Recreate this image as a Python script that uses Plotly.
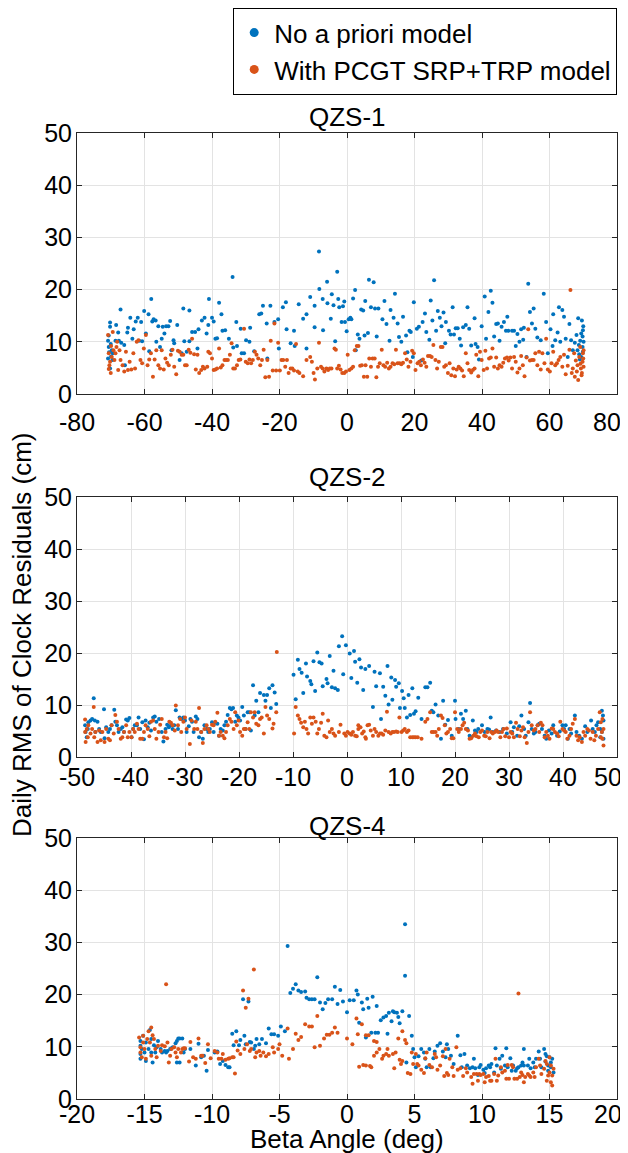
import plotly.graph_objects as go

# ---------------- QZS-1 ----------------
q1_none_x = [-70.2,-70.2,-70.8,-70.6,-69.7,-69.4,-70.8,-70.2,-68.6,-68.4,-67.8,-67.1,-67.6,-66.9,-66.0,-65.8,-65.1,-64.9,-64.2,-63.6,
 -63.2,-62.6,-62.0,-61.6,-61.0,-60.7,-60.1,-59.6,-58.8,-58.6,-58.0,-57.7,-57.3,-56.7,-56.5,-55.9,-55.4,-54.9,-54.6,-54.1,
 -53.6,-52.9,-52.4,-52.0,-51.4,-51.2,-50.3,-49.6,-49.0,-48.5,-48.2,-47.5,-46.7,-46.7,-45.9,-45.0,-44.3,-44.0,-43.0,-42.2,
 -41.6,-41.1,-40.9,-40.0,-39.5,-39.0,-38.5,-37.9,-37.2,-36.9,-36.1,-35.0,-33.9,-33.7,-32.8,-32.6,-31.5,-31.2,-30.5,-29.9,
 -28.9,-28.7,-27.5,-26.0,-25.4,-24.9,-23.8,-23.6,-22.7,-21.5,-20.4,-20.2,-19.0,-18.1,-17.9,-16.7,-15.7,-15.5,-14.3,-13.0,
 -12.0,-12.0,-10.9,-9.6,-9.6,-8.3,-8.2,-7.2,-7.1,-5.9,-5.8,-4.8,-4.5,-4.0,-3.5,-2.9,-2.6,-2.3,-1.6,-1.2,
 -0.8,-0.6,-0.1,0.5,1.0,1.3,1.8,2.4,2.6,3.2,3.7,4.2,4.8,5.2,5.4,6.2,6.5,7.1,7.9,8.3,
 8.8,9.3,10.5,11.1,11.7,12.6,12.9,13.8,14.2,15.0,15.4,16.1,16.6,17.5,17.9,18.5,18.9,19.5,19.8,20.7,
 21.3,22.0,22.4,23.1,23.5,24.4,24.8,25.3,25.8,26.4,26.9,27.5,28.0,28.6,29.1,29.3,30.2,30.7,31.3,31.7,
 32.2,32.8,33.4,33.8,34.4,35.2,35.7,36.2,36.8,37.8,38.1,38.7,39.1,39.9,40.8,41.2,41.9,42.6,43.1,43.6,
 44.2,44.7,45.2,45.8,46.5,47.1,47.5,47.8,48.9,49.5,50.0,50.5,51.1,51.6,52.2,52.4,53.2,53.7,54.2,54.8,
 55.3,55.8,56.4,57.4,58.3,59.0,59.5,60.3,60.9,61.1,61.7,62.4,62.8,63.2,63.8,64.3,64.8,65.4,65.9,66.4,
 66.9,67.5,68.0,68.3,68.5,68.7,69.1,69.4,69.6,69.8,69.9,70.1,69.9,69.4,
 -70.5,-69.9,-70.0,-69.5,-70.6,69.0,69.8,70.0,68.8]
q1_none_y = [13.7,12.9,10.2,9.0,8.4,7.8,6.8,4.9,10.2,13.2,11.8,16.2,10.2,9.8,9.4,5.5,11.8,12.7,14.6,10.6,
 12.4,13.9,14.6,10.2,13.8,10.1,15.9,11.6,15.3,8.2,18.2,13.9,14.3,14.1,10.0,13.0,9.0,10.6,12.9,11.6,
 13.0,13.0,14.0,8.4,10.3,9.7,13.2,6.5,7.8,16.4,10.1,8.1,16.0,10.1,11.9,11.9,8.7,12.4,14.1,14.6,
 11.6,13.2,18.2,14.6,13.9,10.6,10.7,17.5,15.3,12.1,12.2,10.6,22.4,8.9,13.8,9.2,12.5,7.8,7.8,10.3,
 10.0,12.7,8.2,15.3,15.4,16.9,13.5,6.8,16.9,13.8,14.3,8.7,16.6,17.6,12.4,9.7,12.1,9.2,17.2,14.4,
 15.3,8.7,18.6,12.8,16.9,27.3,20.1,18.2,12.2,21.5,17.4,14.4,19.1,17.0,10.1,23.4,18.2,16.6,13.8,16.8,
 17.7,13.8,12.0,14.3,14.6,14.3,18.3,19.9,8.4,11.4,10.6,16.2,16.0,11.2,17.8,11.7,21.9,16.6,21.4,16.4,
 11.0,16.4,14.3,17.8,13.4,10.2,16.1,14.6,19.2,13.5,10.9,10.0,14.8,11.2,8.0,12.1,11.9,7.1,17.6,12.5,
 12.9,6.4,13.8,15.4,11.9,10.4,17.9,14.1,21.8,12.1,15.9,14.6,13.0,15.6,9.7,13.8,12.1,11.4,16.6,11.4,
 12.6,12.6,10.6,9.3,12.8,13.2,16.6,12.5,9.3,14.5,9.6,9.0,6.6,13.0,18.7,10.6,15.7,19.8,17.5,11.0,
 13.4,13.5,10.2,12.9,13.8,12.1,14.8,12.1,12.1,12.1,9.2,11.5,10.0,12.4,10.4,12.7,7.1,21.1,15.7,13.5,
 16.4,12.5,10.8,10.3,19.2,13.8,7.8,12.4,9.2,15.3,10.3,11.8,16.6,10.0,16.1,14.8,10.6,7.1,13.4,10.3,
 8.4,9.8,11.3,8.4,14.5,9.4,10.2,11.6,14.1,9.0,12.2,10.0,8.1,7.1,
 8.0,7.2,9.6,6.5,11.2,6.6,11.0,13.0,7.6]

q1_pcgt_x = [-70.8,-70.6,-70.2,-70.0,-69.7,-69.4,-69.2,-68.9,-68.6,-68.3,-68.1,-67.8,-67.4,-67.1,-66.5,-66.0,-65.5,-64.9,-64.4,-63.9,
 -63.3,-62.8,-62.3,-61.8,-61.2,-60.7,-60.2,-59.6,-59.1,-58.6,-58.1,-57.5,-57.0,-56.5,-55.9,-55.4,-54.9,-54.3,-53.8,-53.3,
 -52.8,-52.2,-51.7,-51.2,-50.6,-50.1,-49.6,-49.0,-48.5,-48.0,-47.5,-46.9,-46.4,-45.9,-45.3,-44.8,-44.3,-43.8,-43.2,-42.7,
 -42.2,-41.4,-41.1,-40.6,-40.0,-39.5,-39.0,-38.5,-37.9,-37.4,-36.9,-36.3,-35.8,-35.3,-34.7,-34.2,-33.7,-33.2,-32.6,-32.1,
 -31.6,-30.5,-30.0,-29.4,-28.9,-28.4,-27.9,-27.3,-26.8,-26.3,-25.7,-25.2,-24.7,-24.2,-23.6,-23.1,-22.6,-22.0,-21.5,-21.0,
 -20.4,-19.9,-19.4,-18.9,-18.3,-17.8,-17.3,-16.7,-16.2,-15.7,-15.1,-14.6,-14.1,-13.0,-12.0,-10.9,-10.4,-9.9,-9.5,-8.8,
 -8.3,-7.7,-7.2,-6.7,-6.1,-5.6,-5.1,-4.6,-3.7,-3.3,-2.9,-2.4,-1.9,-1.4,-0.8,-0.3,0.2,0.7,1.3,1.8,
 2.3,2.9,3.4,3.9,4.4,5.0,5.5,6.0,6.6,7.1,7.6,8.2,8.7,9.2,9.7,10.3,10.8,11.3,11.9,12.4,
 12.9,13.5,14.0,14.5,15.0,15.6,16.1,16.6,17.2,17.7,18.2,18.8,19.3,19.8,20.3,20.9,21.4,21.9,22.5,23.0,
 23.5,24.0,24.6,25.1,25.6,26.2,26.7,27.2,27.8,28.3,28.8,29.3,29.9,30.4,30.9,31.5,32.0,32.5,33.1,33.6,
 34.1,34.6,35.2,35.7,36.2,36.8,37.3,37.8,38.3,38.9,39.4,39.9,40.5,41.0,41.5,42.1,42.6,43.1,43.6,44.2,
 44.7,45.2,45.8,46.3,46.8,47.4,47.9,48.4,48.9,49.5,50.0,50.5,51.1,51.6,52.1,52.6,53.2,53.7,54.2,54.8,
 55.3,55.8,56.4,56.9,57.4,57.9,58.5,59.0,59.5,60.1,60.6,61.1,61.7,62.2,62.7,63.2,63.8,64.3,64.8,65.4,
 65.9,66.2,66.6,66.9,67.3,67.5,67.8,68.1,68.3,68.5,68.8,69.1,69.3,69.6,69.8,69.9,70.1,70.1,
 -70.4,-69.9,-70.6,69.5,70.0,69.2]
q1_pcgt_y = [11.3,7.8,6.2,4.0,7.1,11.9,8.4,6.5,7.8,9.0,10.0,4.6,8.4,6.5,5.5,4.3,8.1,4.6,6.2,4.7,
 7.8,4.9,10.0,10.3,6.5,5.9,8.7,11.3,5.5,6.6,7.8,3.3,6.6,8.4,5.5,4.9,8.4,4.7,6.8,6.0,
 5.5,7.5,8.5,5.2,3.8,8.3,8.1,7.5,7.5,5.5,5.5,8.5,7.9,10.6,7.6,4.7,7.5,4.0,4.6,5.2,
 4.9,5.2,8.1,7.8,6.8,4.6,4.7,4.9,8.7,5.1,5.5,6.5,6.5,6.5,7.5,9.7,4.9,4.9,5.5,6.5,
 6.6,12.5,6.2,5.9,6.6,5.9,6.5,8.1,7.5,6.8,5.5,6.5,8.5,3.2,6.5,3.3,10.2,4.5,13.5,4.5,
 9.8,4.5,6.5,6.5,5.2,6.5,4.0,4.9,4.9,4.5,9.6,4.3,4.0,3.4,6.5,7.1,6.2,4.0,2.8,4.9,
 9.8,5.2,4.9,4.3,4.9,4.6,4.9,4.9,8.7,8.5,4.9,5.4,4.7,4.0,4.0,4.3,7.5,4.6,4.9,5.2,
 8.4,9.2,9.2,5.4,5.5,3.3,5.5,3.3,6.8,5.2,6.8,6.8,3.2,5.2,5.9,8.5,5.5,5.2,6.0,4.9,
 5.2,5.9,5.7,8.5,5.9,5.9,5.7,6.0,7.8,6.6,5.2,6.2,8.3,7.8,4.6,5.9,6.2,5.5,6.6,6.0,
 5.2,7.3,7.3,7.1,9.4,6.5,4.9,6.2,9.0,9.0,5.2,5.5,4.0,5.9,3.6,4.9,3.4,4.7,5.2,4.9,
 4.5,3.4,7.8,5.9,4.6,4.1,4.6,4.9,7.5,3.4,8.1,6.5,4.6,8.3,4.9,6.8,7.0,8.7,5.2,7.0,
 4.9,5.5,5.2,6.0,6.8,7.0,6.4,7.0,4.9,7.1,6.2,4.1,4.9,7.3,5.5,3.4,7.0,12.4,6.4,6.5,
 6.5,7.8,5.5,8.1,4.7,7.8,5.9,10.6,4.7,4.3,5.9,8.1,5.5,5.9,6.5,7.1,5.2,7.5,3.8,5.4,
 8.5,19.9,4.0,4.9,7.8,3.3,6.4,4.3,5.5,2.7,7.1,9.0,4.9,4.0,6.2,7.8,5.2,8.4,
 5.5,9.2,4.8,3.6,6.8,5.8]

# ---------------- QZS-2 ----------------
q2_none_x = [-48.5,-48.4,-48.2,-48.0,-47.9,-47.5,-47.2,-46.9,-46.7,-46.6,-46.2,-45.9,-45.6,-45.0,-44.9,-44.6,-44.2,-43.9,-43.6,-43.1,
 -42.9,-42.6,-42.3,-41.9,-41.6,-41.3,-40.9,-40.6,-40.3,-39.9,-39.6,-39.3,-38.9,-38.6,-38.3,-37.9,-37.6,-37.3,-36.9,-36.6,
 -36.3,-35.9,-35.6,-35.3,-34.8,-34.3,-34.0,-33.6,-33.3,-33.0,-32.6,-32.3,-32.0,-31.7,-31.3,-31.0,-30.7,-30.3,-30.0,-29.7,
 -29.3,-29.0,-28.7,-28.4,-28.0,-27.7,-27.4,-27.0,-26.7,-26.4,-26.0,-25.7,-25.4,-25.0,-24.7,-24.4,-24.0,-23.7,-23.4,-23.0,
 -22.7,-22.4,-22.1,-21.7,-21.4,-21.1,-20.7,-20.4,-20.1,-19.8,-19.4,-19.1,-18.8,-18.4,-18.1,-17.8,-17.4,-17.1,-16.8,-16.4,
 -16.1,-15.4,-15.1,-14.8,-14.4,-14.1,-13.8,-13.4,-13.1,
 -9.9,-9.5,-9.1,-8.8,-8.4,-8.1,-7.6,-7.4,-6.8,-6.6,-6.2,-5.9,-5.5,-5.1,-4.7,-4.5,-3.8,-3.6,-3.2,-2.8,
 -2.5,-2.2,-1.7,-1.5,-0.9,-0.7,-0.2,0.5,0.8,1.3,1.5,1.9,2.3,2.6,3.0,3.4,4.1,4.8,5.1,5.4,
 6.1,6.3,6.7,7.1,7.5,7.7,8.2,8.4,8.9,9.1,9.6,9.8,10.2,10.5,10.7,11.1,11.4,11.7,12.1,12.4,
 12.7,13.2,13.8,14.5,14.9,15.4,15.7,16.0,16.4,16.9,17.4,17.8,18.2,18.7,19.4,20.0,20.1,20.7,21.1,21.5,
 22.0,22.3,22.7,23.0,23.3,23.7,24.0,24.3,25.0,25.5,26.0,26.3,26.6,27.0,27.6,28.3,28.9,29.6,30.3,30.6,
 30.9,31.5,31.9,32.3,32.8,33.1,33.6,33.9,34.2,34.6,34.9,35.3,35.6,36.1,36.6,36.9,37.4,37.9,38.2,38.9,
 39.4,39.9,40.2,40.5,40.9,41.2,41.5,42.2,42.5,43.0,43.5,44.1,44.5,45.2,45.5,45.9,46.2,46.5,46.9,47.2,
 47.4,47.5,47.2,47.5,46.9]
q2_none_y = [6.1,4.8,3.8,5.4,6.7,7.0,7.3,11.3,7.0,4.8,6.8,5.4,4.8,9.2,3.6,5.7,4.8,5.4,6.1,9.1,
 6.8,6.1,4.8,5.4,5.7,4.8,7.2,7.0,7.5,3.8,5.4,6.1,6.1,7.6,5.4,6.7,3.4,7.0,5.7,6.6,
 5.1,7.6,7.8,6.8,7.3,4.8,3.0,5.4,6.2,5.7,6.1,5.4,6.1,9.0,5.4,7.6,7.3,7.6,7.0,4.8,
 5.9,7.3,6.8,4.8,7.8,7.3,3.8,4.8,3.5,6.1,5.4,4.8,5.4,6.7,4.8,6.6,6.4,4.1,5.4,5.1,
 6.1,6.8,8.1,9.4,9.2,9.4,6.8,8.0,7.6,7.0,9.6,8.0,5.4,8.6,8.6,5.1,13.8,8.0,10.8,8.6,
 12.3,11.9,10.8,11.9,13.2,9.4,13.8,12.4,10.2,
 15.8,11.1,18.7,16.9,16.2,12.3,18.0,15.5,14.6,14.0,18.4,12.7,20.1,18.2,18.0,13.6,15.0,14.2,19.4,13.4,
 16.6,13.2,12.9,21.3,23.2,15.9,21.5,19.9,15.2,20.4,18.3,14.3,18.8,17.2,12.9,16.9,17.5,9.6,16.4,13.6,
 16.1,7.3,13.5,11.8,17.5,10.1,15.3,11.0,14.8,13.5,14.2,9.4,12.7,11.3,9.4,7.6,11.9,8.1,13.2,8.3,
 8.8,11.4,7.3,13.4,13.4,14.3,8.9,8.6,10.1,8.0,3.5,10.8,6.2,7.1,4.1,10.8,7.3,5.4,8.3,7.3,
 8.9,5.4,4.1,3.8,7.0,5.1,4.8,5.4,6.1,4.8,5.4,5.3,7.6,4.8,5.1,4.8,5.4,4.5,6.7,4.8,
 5.7,4.1,5.9,8.0,5.4,4.1,6.7,10.4,5.4,4.5,4.8,6.1,6.4,5.4,4.1,3.5,5.1,4.5,6.1,4.1,
 4.9,6.1,5.4,6.1,3.5,5.4,4.5,8.0,4.8,4.1,3.5,5.9,4.8,7.0,5.4,4.8,6.1,6.7,5.4,8.9,
 8.0,7.0,4.8,3.5,3.8]

q2_pcgt_x = [-48.5,-48.5,-48.4,-48.2,-48.0,-47.9,-47.5,-47.2,-46.9,-46.8,-46.6,-46.2,-45.9,-45.6,-45.3,-44.9,-44.6,-44.2,-43.9,-43.6,
 -43.2,-42.9,-42.6,-42.3,-41.9,-41.6,-41.3,-40.9,-40.6,-40.3,-39.9,-39.6,-39.3,-38.9,-38.6,-38.3,-37.9,-37.6,-37.3,-36.9,
 -36.6,-36.3,-35.9,-35.6,-35.3,-34.9,-34.6,-34.3,-33.9,-33.6,-33.3,-32.9,-32.6,-32.3,-31.9,-31.7,-31.3,-30.9,-30.7,-30.3,
 -30.0,-29.7,-29.1,-28.8,-28.3,-28.0,-27.7,-27.4,-27.0,-26.7,-26.4,-26.0,-25.7,-25.4,-25.0,-24.7,-24.4,-24.0,-23.7,-23.4,
 -23.0,-22.7,-22.4,-22.1,-21.7,-21.4,-21.0,-20.7,-20.4,-20.1,-19.8,-19.4,-19.1,-18.8,-18.4,-18.1,-17.8,-17.4,-17.1,-16.8,
 -16.4,-16.1,-15.8,-15.4,-15.1,-14.8,-14.4,-13.8,-13.6,-13.1,-13.0,
 -9.8,-9.5,-9.1,-8.8,-8.5,-8.1,-7.8,-7.5,-7.2,-6.8,-6.5,-6.2,-5.8,-5.5,-5.2,-4.8,-4.5,-4.2,-3.8,-3.5,
 -3.2,-2.8,-2.5,-2.2,-1.5,-1.2,-0.5,-0.2,0.1,0.5,0.8,1.1,1.5,1.8,2.1,2.1,2.5,2.8,3.1,3.4,
 3.5,3.8,4.1,4.4,4.8,5.1,5.4,5.8,6.1,6.4,6.7,7.1,7.4,7.7,8.1,8.4,8.7,9.1,9.4,9.7,
 10.1,10.4,10.7,11.1,11.4,11.7,12.1,12.4,12.7,13.1,13.8,14.5,14.9,15.4,15.7,16.0,16.4,16.7,17.0,17.4,
 17.7,18.1,18.4,18.7,19.1,19.4,19.7,20.0,20.4,20.7,21.1,21.4,21.7,22.0,22.4,22.7,23.0,23.4,23.7,24.0,
 24.4,24.7,25.0,25.4,25.7,26.0,26.4,26.7,27.0,27.4,27.7,28.0,28.4,28.7,29.0,29.3,29.6,30.0,30.3,30.6,
 30.9,31.3,31.6,32.0,32.3,32.6,32.9,33.3,33.6,33.9,34.2,34.6,34.9,35.3,35.6,35.9,36.2,36.6,36.9,37.2,
 37.5,37.9,38.2,38.5,38.9,39.2,39.5,39.9,40.2,40.5,40.8,41.2,41.5,41.8,42.2,42.5,42.8,43.1,43.5,43.8,
 44.1,44.5,44.8,45.1,45.5,45.8,46.1,46.5,46.8,47.0,47.2,47.3,47.5,47.5,47.3,47.0]
q2_pcgt_y = [7.2,4.8,2.9,5.4,3.8,6.1,4.5,5.4,9.6,3.8,4.8,2.9,5.1,3.2,4.8,2.9,5.4,3.5,3.2,6.1,
 4.5,8.1,6.8,5.4,3.5,3.8,4.8,6.1,3.8,4.8,3.8,5.4,4.8,6.4,5.4,3.5,3.5,4.8,6.1,5.4,
 4.0,6.8,7.0,5.4,3.5,4.8,6.2,7.3,3.8,4.8,3.6,6.8,6.6,6.1,5.1,9.9,6.1,7.3,4.8,6.8,
 7.6,5.4,2.5,7.0,5.4,6.8,5.4,9.4,4.8,2.7,5.4,6.1,5.4,4.8,6.2,6.1,6.8,8.5,4.1,4.8,
 4.1,3.6,4.8,6.1,7.3,6.8,5.4,8.6,6.1,7.0,4.8,4.1,5.4,5.4,6.7,5.4,8.6,7.6,8.6,6.4,
 6.1,7.3,7.6,4.5,9.6,8.0,7.3,5.5,6.4,8.6,20.2,
 4.5,9.6,8.0,7.3,6.6,5.7,6.8,5.4,4.5,7.6,6.4,7.6,6.8,4.5,5.4,6.6,8.3,4.1,3.8,7.0,
 4.8,5.4,4.5,4.1,4.8,6.2,4.5,4.1,4.8,4.5,4.3,4.8,4.1,4.0,5.4,6.1,5.7,4.5,4.9,3.8,
 3.5,6.1,6.2,5.1,4.1,5.4,4.8,4.1,4.5,4.5,4.3,5.1,8.7,4.8,4.5,4.8,4.8,4.9,4.8,7.6,
 4.8,5.1,5.4,4.8,5.1,3.8,3.8,3.8,3.8,3.8,3.5,6.8,7.3,8.6,4.8,4.8,4.8,4.1,5.4,8.0,
 7.5,6.1,4.5,4.8,5.4,3.6,3.6,8.6,5.4,4.8,5.4,6.1,6.6,5.4,5.1,3.5,3.6,4.1,4.5,4.0,
 3.8,4.8,5.1,4.1,4.0,4.8,3.6,4.8,4.5,4.8,5.1,4.8,3.8,4.8,5.4,4.0,5.5,3.8,4.8,4.5,
 3.8,6.6,5.4,4.0,5.1,5.7,3.8,2.7,4.8,8.6,6.1,5.1,5.4,6.1,4.8,6.6,6.1,3.8,4.8,4.1,
 3.5,5.5,5.4,4.8,4.5,4.0,6.8,5.4,5.1,4.8,3.5,4.1,5.4,6.4,7.3,4.1,3.2,3.8,2.9,4.8,
 4.1,5.4,5.1,3.5,4.8,3.2,4.1,5.4,8.6,6.7,4.8,3.5,2.2,5.4,7.3,3.8]

# ---------------- QZS-4 ----------------
q4_none_x = [-15.3,-15.3,-15.3,-15.3,-15.2,-15.1,-15.0,-14.9,-14.9,-14.7,-14.6,-14.5,-14.5,-14.4,-14.3,-14.2,-14.1,-14.0,-13.8,-13.7,
 -13.5,-13.4,-13.3,-13.1,-13.0,-12.9,-12.7,-12.6,-12.5,-12.4,-12.2,-12.6,-12.4,-12.1,-12.0,-11.6,-11.2,-11.0,-10.8,-10.6,
 -10.4,-10.3,-9.8,-9.6,-9.4,-9.2,-9.0,-8.8,-8.7,-8.5,-8.4,-8.2,-8.0,-7.9,-7.7,-7.6,-7.5,-7.3,-7.2,-7.1,
 -6.9,-6.8,-6.7,-6.5,-6.3,-6.0,-5.8,-5.6,-5.4,-5.1,-4.9,-4.6,-4.4,-4.2,-4.0,-3.8,-3.6,-3.4,-3.1,-3.0,
 -2.8,-2.6,-2.4,-2.2,-2.0,-1.8,-1.6,-1.4,-1.1,-0.9,-0.7,-0.5,-0.3,0.0,0.2,0.5,0.7,0.8,0.9,1.1,
 1.2,1.4,1.5,1.6,1.8,1.9,2.1,2.2,2.3,2.5,2.7,2.9,3.0,3.1,3.3,3.4,3.5,3.7,3.8,3.9,
 4.1,4.3,4.3,4.4,4.6,4.8,4.9,5.0,5.1,5.3,5.5,5.7,5.8,5.9,6.1,6.2,6.4,6.5,6.7,6.9,
 7.1,7.3,7.4,7.5,7.7,7.9,8.2,8.4,8.5,8.7,8.9,9.1,9.3,9.4,9.5,9.7,9.8,9.9,10.1,10.2,
 10.3,10.5,10.6,10.7,10.9,11.0,11.1,11.3,11.4,11.5,11.7,11.8,11.9,12.1,12.2,12.3,12.5,12.6,12.7,12.9,
 13.0,13.1,13.1,13.4,13.5,13.6,13.8,13.9,14.0,14.2,14.3,14.4,14.6,14.7,14.7,14.8,14.9,14.9,15.0,15.1,
 15.1,15.2,15.3]
q4_none_y = [11.1,10.2,8.6,7.7,9.6,12.1,8.9,7.3,10.8,9.6,13.2,11.5,8.9,7.0,10.3,8.9,9.9,11.1,9.6,8.9,
 9.2,8.9,9.2,9.6,9.7,9.9,10.7,11.1,11.6,11.6,11.6,7.0,7.0,8.9,9.6,9.6,6.4,10.6,8.0,8.3,
 5.4,9.4,8.9,9.1,6.7,7.3,6.5,6.1,6.1,12.5,10.3,13.0,10.3,11.3,19.1,12.1,10.5,18.7,10.9,10.8,
 9.6,10.2,11.5,10.5,11.5,10.7,13.5,12.4,12.4,12.1,13.9,13.0,29.3,20.3,21.1,22.0,20.8,20.5,20.6,19.4,
 19.1,19.1,19.1,23.3,18.5,17.2,18.4,19.1,19.1,21.5,18.2,20.9,18.7,16.6,18.9,18.9,20.8,20.0,14.6,18.5,
 17.2,11.8,19.2,17.5,12.7,19.6,12.7,17.8,12.7,15.1,15.6,15.9,12.5,16.5,14.9,16.8,16.6,16.5,15.7,14.5,
 16.8,33.5,23.6,7.0,15.9,12.1,9.6,8.0,6.1,8.2,9.6,8.9,7.7,6.1,9.6,6.1,7.8,9.1,10.2,10.7,
 9.1,8.0,10.5,9.6,8.3,6.7,12.1,8.4,6.1,8.6,6.4,5.9,6.1,7.7,5.9,4.6,6.1,6.5,5.6,5.0,
 5.9,6.4,6.1,6.7,5.1,9.7,6.4,7.7,5.8,8.3,6.4,9.7,6.1,7.8,5.4,6.4,5.4,5.9,6.1,6.4,
 7.0,6.4,9.6,6.4,7.7,5.9,7.0,6.1,7.7,9.1,7.7,6.1,9.6,7.2,8.6,8.2,6.4,5.4,8.0,7.0,
 6.1,7.7,5.1]

q4_pcgt_x = [-15.4,-15.3,-15.3,-15.2,-15.1,-15.1,-15.0,-14.9,-14.8,-14.7,-14.6,-14.5,-14.5,-14.4,-14.3,-14.2,-14.1,-14.0,-13.8,-13.7,
 -13.5,-13.4,-13.3,-13.2,-13.1,-13.0,-12.8,-12.7,-12.6,-12.5,-12.3,-12.2,-12.1,-12.0,-11.7,-11.6,-11.4,-11.2,-11.0,-10.8,
 -10.7,-10.5,-10.3,-10.1,-9.8,-9.6,-9.5,-9.3,-9.2,-9.0,-8.8,-8.7,-8.5,-8.4,-8.3,-8.2,-8.1,-7.9,-7.7,-7.6,
 -7.5,-7.4,-7.3,-7.2,-7.1,-6.9,-6.8,-6.7,-6.5,-6.4,-6.2,-6.0,-5.8,-5.5,-5.4,-5.1,-5.0,-4.8,-4.4,-4.3,
 -4.0,-3.8,-3.6,-3.4,-3.1,-2.8,-2.6,-2.4,-2.2,-2.0,-1.7,-1.5,-1.3,-1.1,-0.9,-0.7,0.0,0.4,0.7,0.8,
 0.9,1.1,1.2,1.4,1.4,1.6,1.7,1.8,2.0,2.0,2.2,2.2,2.4,2.6,2.7,2.9,3.0,3.1,3.4,3.5,
 3.6,3.8,3.9,4.0,4.1,4.1,4.3,4.4,4.5,4.7,4.8,4.9,5.1,5.2,5.3,5.5,5.7,5.8,5.9,6.1,
 6.3,6.5,6.6,6.7,6.9,7.1,7.2,7.3,7.4,7.5,7.6,7.8,7.9,8.1,8.2,8.4,8.6,8.8,8.9,9.2,
 9.3,9.4,9.6,9.7,9.8,9.9,10.1,10.2,10.3,10.5,10.6,10.7,10.9,11.0,11.1,11.2,11.4,11.5,11.7,11.8,
 11.9,12.0,12.2,12.3,12.4,12.6,12.7,12.8,12.9,13.0,13.1,13.2,13.4,13.5,13.6,13.8,13.9,14.0,14.2,14.3,
 14.4,14.6,14.7,14.8,14.8,14.9,15.0,15.0,15.1,15.1,15.2,15.3,15.2]
q4_pcgt_y = [11.8,9.9,8.9,8.0,10.8,12.1,9.6,7.7,11.5,13.0,10.8,13.7,8.3,12.2,11.5,9.6,8.0,10.2,9.2,10.3,
 10.1,22.0,10.8,7.0,8.3,9.6,9.9,8.9,8.0,9.6,8.9,9.6,9.7,9.7,7.2,10.9,8.0,7.7,11.6,8.3,
 8.3,6.9,10.5,7.8,9.2,8.9,7.7,7.7,8.6,7.5,7.7,7.8,8.0,8.0,4.9,11.0,9.3,8.6,20.8,9.6,
 17.5,10.5,19.2,9.2,9.6,24.8,8.0,8.9,9.2,8.3,8.9,8.2,8.6,9.9,8.9,9.6,10.5,8.3,13.5,7.7,
 9.6,12.5,11.3,11.9,14.3,13.9,13.9,9.9,15.9,10.2,11.6,12.3,12.3,12.7,13.7,12.7,11.6,10.5,15.4,12.4,
 6.2,14.3,6.5,12.2,6.4,12.2,6.3,6.1,8.3,11.1,8.9,10.9,9.6,7.7,8.3,8.6,9.6,8.3,8.6,5.9,
 8.9,11.6,7.5,6.7,7.3,13.0,11.3,10.7,5.0,4.8,8.9,6.7,8.6,6.7,6.4,5.6,5.0,7.8,8.9,6.5,
 6.1,8.6,8.0,5.6,6.4,8.2,4.4,9.6,5.0,4.6,7.7,6.1,4.4,9.9,5.6,5.9,4.4,5.9,5.1,4.2,
 2.9,4.8,4.8,3.5,4.8,4.6,4.8,3.2,4.2,4.4,3.5,3.5,4.8,7.7,3.5,4.5,6.1,5.1,5.4,3.9,
 6.5,3.9,6.5,6.1,3.9,3.9,20.2,4.2,5.1,4.6,3.2,4.2,4.8,4.5,4.2,5.1,4.2,6.1,7.7,6.4,
 4.8,5.8,7.3,3.5,6.7,4.5,8.0,5.1,3.2,6.4,2.6,5.8,4.5]

# ---------------- ticks ----------------
q1_xticks = [-80, -60, -40, -20, 0, 20, 40, 60, 80]
q2_xticks = [-50, -40, -30, -20, -10, 0, 10, 20, 30, 40, 50]
q4_xticks = [-20, -15, -10, -5, 0, 5, 10, 15, 20]
y_ticks = [0, 10, 20, 30, 40, 50]

BLUE = "#0072BD"
ORANGE = "#D95319"
FONT = "Liberation Sans, Arial, Helvetica, sans-serif"

def lbl(vals, blank_last=False):
    # MATLAB uses a plain hyphen for negatives. The last x label is drawn
    # separately (right-anchored) so that it stays inside the window.
    out = [str(v) for v in vals]
    if blank_last:
        out[-1] = ""
    return out

fig = go.Figure()

panels = [
    ("x", "y", q1_none_x, q1_none_y, q1_pcgt_x, q1_pcgt_y),
    ("x2", "y2", q2_none_x, q2_none_y, q2_pcgt_x, q2_pcgt_y),
    ("x3", "y3", q4_none_x, q4_none_y, q4_pcgt_x, q4_pcgt_y),
]
for xa, ya, bx, by, ox, oy in panels:
    fig.add_trace(go.Scatter(x=bx, y=by, mode="markers", xaxis=xa, yaxis=ya,
                             marker=dict(color=BLUE, size=4, line=dict(width=0)), showlegend=False))
    fig.add_trace(go.Scatter(x=ox, y=oy, mode="markers", xaxis=xa, yaxis=ya,
                             marker=dict(color=ORANGE, size=4, line=dict(width=0)), showlegend=False))

# legend entries
fig.add_trace(go.Scatter(x=[None], y=[None], mode="markers", name="No a priori model",
                         marker=dict(color=BLUE, size=9)))
fig.add_trace(go.Scatter(x=[None], y=[None], mode="markers", name="With PCGT SRP+TRP model",
                         marker=dict(color=ORANGE, size=9)))

# The page has an 8px body margin, so layout positions (measured in the
# screenshot) are shifted by OFF to get figure coordinates.
OFF = 8
W = 628 - OFF
H = 1153 - OFF
L = 77 - OFF          # left edge of the axes
R = 617 - OFF         # right edge of the axes
PW = R - L

def dom(top_px, bot_px):
    return [(H - (bot_px - OFF)) / H, (H - (top_px - OFF)) / H]

axis_common = dict(showgrid=True, gridcolor="#e3e3e3", gridwidth=1, zeroline=False,
                   showline=True, linecolor="#262626", linewidth=1, mirror="ticks",
                   ticks="inside", ticklen=5, tickcolor="#262626", automargin=False,
                   ticklabeloverflow="allow",
                   tickfont=dict(family=FONT, size=25, color="#000000"))

fig.update_layout(
    width=W, height=H,
    margin=dict(l=L, r=W - R, t=0, b=0, autoexpand=False),
    paper_bgcolor="white", plot_bgcolor="white",
    font=dict(family=FONT, size=25, color="#000000"),
    xaxis=dict(domain=[0, 1], anchor="y", range=[-80, 80], tickvals=q1_xticks, ticktext=lbl(q1_xticks, True),
               ticklabelstandoff=6, **axis_common),
    yaxis=dict(domain=dom(133, 394), anchor="x", range=[0, 50], tickvals=y_ticks, ticktext=lbl(y_ticks),
               ticklabelstandoff=-1, **axis_common),
    xaxis2=dict(domain=[0, 1], anchor="y2", range=[-50, 50], tickvals=q2_xticks, ticktext=lbl(q2_xticks, True),
                ticklabelstandoff=-2, **axis_common),
    yaxis2=dict(domain=dom(497, 757), anchor="x2", range=[0, 50], tickvals=y_ticks, ticktext=lbl(y_ticks),
                ticklabelstandoff=-1, **axis_common),
    xaxis3=dict(domain=[0, 1], anchor="y3", range=[-20, 20], tickvals=q4_xticks, ticktext=lbl(q4_xticks, True),
                ticklabelstandoff=-7, **axis_common),
    yaxis3=dict(domain=dom(838, 1099), anchor="x3", range=[0, 50], tickvals=y_ticks, ticktext=lbl(y_ticks),
                ticklabelstandoff=-1, **axis_common),
    legend=dict(x=1.0, xanchor="right", y=1.0, yanchor="top",
                bordercolor="#000000", borderwidth=1.2, bgcolor="white",
                font=dict(family=FONT, size=26, color="#000000"),
                itemwidth=30, tracegroupgap=0),
    showlegend=True,
)

def ann(text, xp, yp, size=26, **kw):
    kw.setdefault("xanchor", "center")
    fig.add_annotation(text=text, xref="paper", yref="paper",
                       x=(xp - 77) / PW, y=(H - (yp - OFF)) / H, showarrow=False,
                       yanchor="middle",
                       font=dict(family=FONT, size=size, color="#000000"), **kw)

ann("QZS-1", 347, 117)
ann("QZS-2", 347, 477)
ann("QZS-4", 347, 826)
ann("Beta Angle (deg)", 347, 1139)
ann("Daily RMS of Clock Residuals (cm)", 22, 635, textangle=-90)

# last x tick labels, right-anchored at the window edge
ann(str(q1_xticks[-1]), 623, 422, size=25, xanchor="right")
ann(str(q2_xticks[-1]), 624, 777, size=25, xanchor="right")
ann(str(q4_xticks[-1]), 624, 1114, size=25, xanchor="right")

fig.write_html("out.html")
